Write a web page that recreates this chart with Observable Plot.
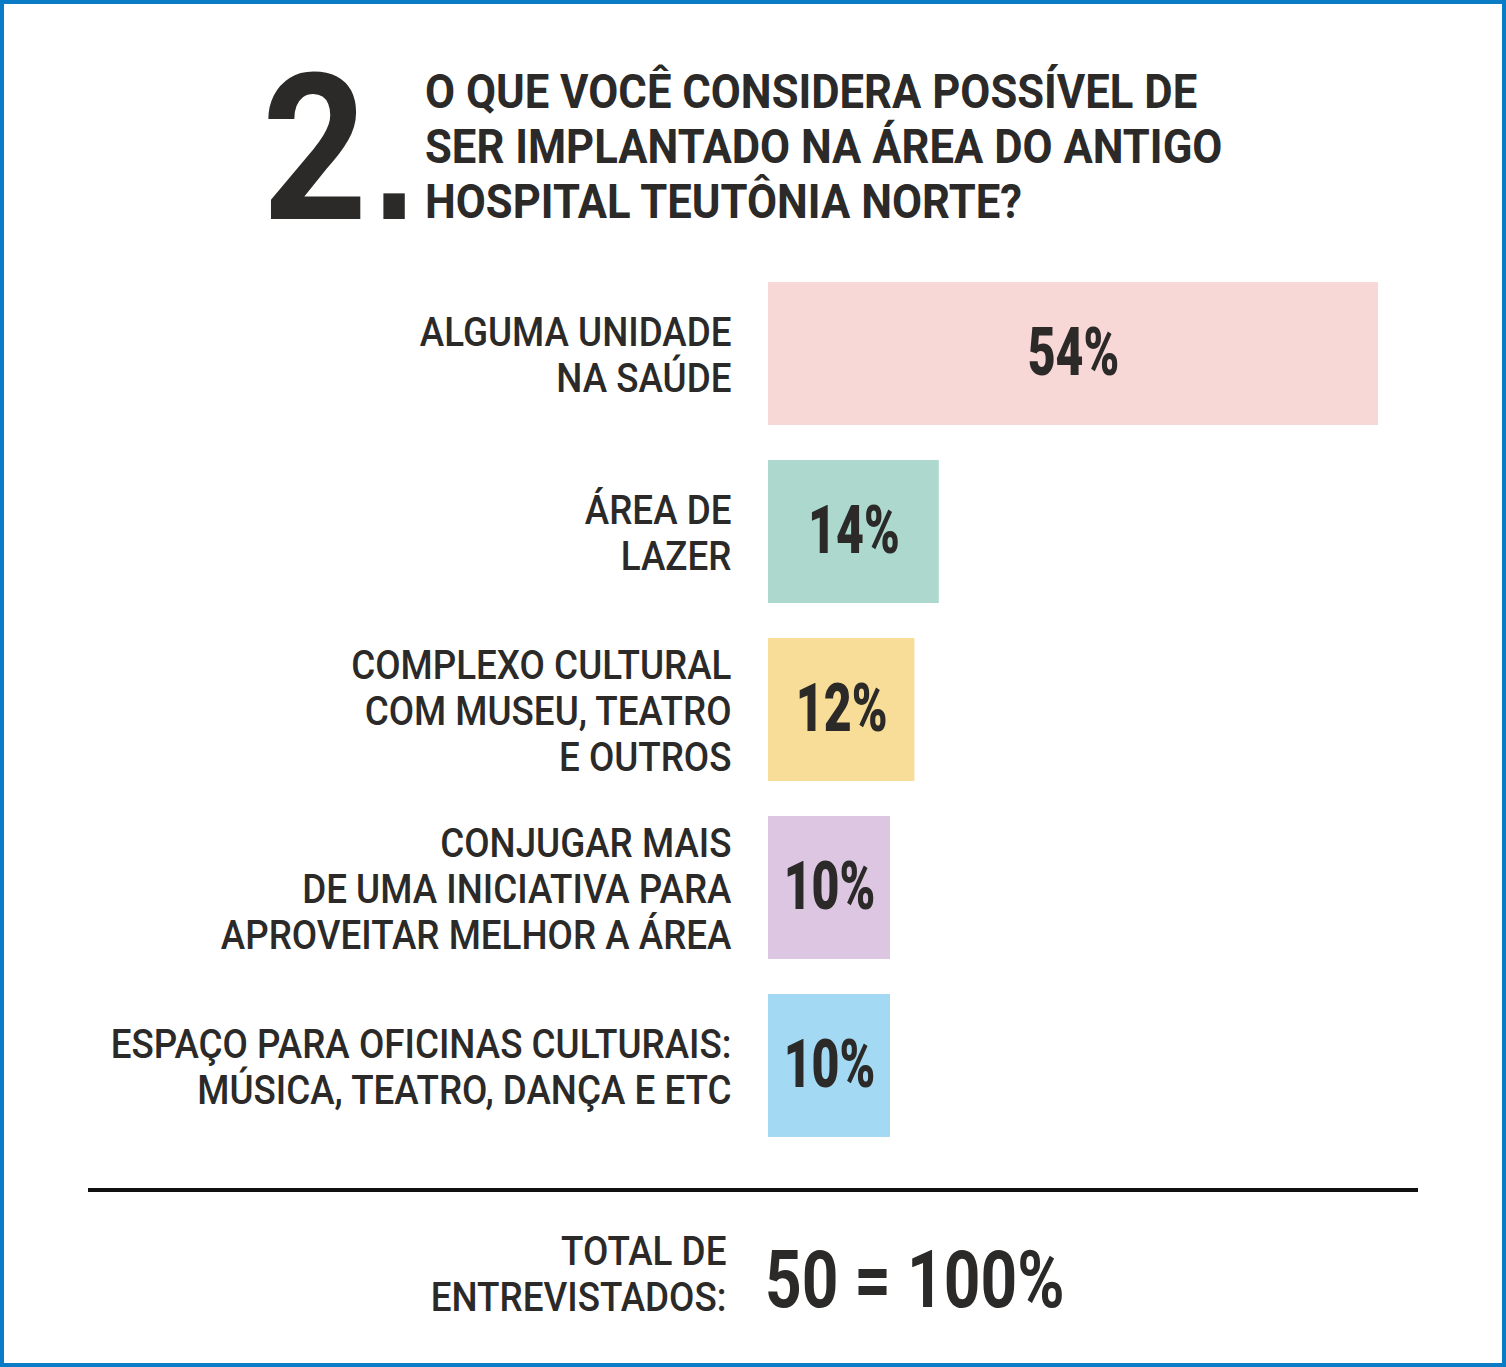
<!DOCTYPE html>
<html>
<head>
<meta charset="utf-8">
<script src="https://cdn.jsdelivr.net/npm/d3@7"></script>
<script src="https://cdn.jsdelivr.net/npm/@observablehq/plot@0.6"></script>
<style>
  html, body { margin: 0; padding: 0; background: #fff; }
  #frame { position: relative; width: 1506px; height: 1367px; background: #fff; overflow: hidden;
           font-family: Roboto, "Noto Sans", sans-serif; color: #2b2a28; }
  #border { position: absolute; left: 0; top: 0; width: 1506px; height: 1367px; box-sizing: border-box;
            border: 4px solid #0a7bc5; pointer-events: none; }
  .abs { position: absolute; white-space: nowrap; }
  #num { left: 262px; top: 48px; font-size: 204px; line-height: 204px; font-weight: 700;
         transform: scaleX(0.9); transform-origin: left top; }
  #num .dot { font-family: "DejaVu Sans", sans-serif; font-size: 135px; font-weight: 700; margin-left: 4px; }
  #q { left: 425px; top: 64px; font-size: 49px; line-height: 55px; font-weight: 700;
       transform: scaleX(0.89); transform-origin: left top; }
  #chart { left: 0; top: 242px; }
  #rule { left: 88px; top: 1188px; width: 1330px; height: 4px; background: #111; }
  #totLabel { right: 780px; top: 1229px; font-size: 40px; line-height: 46px; text-align: right; font-weight: 500;
              transform: scaleX(0.92); transform-origin: right top; }
  #totValue { left: 765px; top: 1240px; font-size: 80px; line-height: 80px; font-weight: 700;
              transform: scaleX(0.8); transform-origin: left top; }
</style>
</head>
<body>
<div id="frame">
  <div class="abs" id="num"></div>
  <div class="abs" id="q"></div>
  <div class="abs" id="chart"></div>
  <div class="abs" id="rule"></div>
  <div class="abs" id="totLabel"></div>
  <div class="abs" id="totValue"></div>
  <div id="border"></div>
</div>
<script>
// ---- data ----
const questionNumber = "2";
const questionDot = ".";
const titleLines = ["O QUE VOCÊ CONSIDERA POSSÍVEL DE", "SER IMPLANTADO NA ÁREA DO ANTIGO", "HOSPITAL TEUTÔNIA NORTE?"];
const categories = [
  "ALGUMA UNIDADE\nNA SAÚDE",
  "ÁREA DE\nLAZER",
  "COMPLEXO CULTURAL\nCOM MUSEU, TEATRO\nE OUTROS",
  "CONJUGAR MAIS\nDE UMA INICIATIVA PARA\nAPROVEITAR MELHOR A ÁREA",
  "ESPAÇO PARA OFICINAS CULTURAIS:\nMÚSICA, TEATRO, DANÇA E ETC"
];
const values = [54, 14, 12, 10, 10];
const valueLabels = ["54%", "14%", "12%", "10%", "10%"];
const colors = ["#f8d7d7", "#acd8ce", "#f8dd98", "#dcc6e2", "#a3d9f3"];
const totalLines = ["TOTAL DE", "ENTREVISTADOS:"];
const totalValue = "50 = 100%";
const xCap = 50; // the original graphic truncates the long bar

// ---- texts ----
const num = document.getElementById("num");
num.textContent = questionNumber;
const dot = document.createElement("span");
dot.className = "dot";
dot.textContent = questionDot;
num.appendChild(dot);
document.getElementById("q").innerHTML = titleLines.join("<br>");
document.getElementById("totLabel").innerHTML = totalLines.join("<br>");
document.getElementById("totValue").textContent = totalValue;

// ---- chart ----
const data = categories.map((label, i) => ({label, value: values[i], text: valueLabels[i]}));
const ink = "#2b2a28";
const plot = Plot.plot({
  width: 1506,
  height: 935,
  marginTop: 5, marginBottom: 5, marginLeft: 768, marginRight: 128,
  x: {domain: [0, xCap], clamp: true, axis: null},
  y: {domain: categories, padding: 0.197, round: false, axis: null},
  color: {domain: categories, range: colors},
  style: {background: "transparent", overflow: "visible"},
  marks: [
    Plot.barX(data, {x: "value", y: "label", fill: "label"}),
    Plot.text(data, {y: "label", text: "label", frameAnchor: "left", textAnchor: "end", dx: -37,
      fontSize: 40, fontWeight: 500, lineHeight: 1.15, lineAnchor: "middle", fill: ink, fontFamily: "Roboto"}),
    Plot.text(data, {x: d => Math.min(d.value, xCap) / 2, y: "label", text: "text",
      fontSize: 67, fontWeight: 900, fill: ink, fontFamily: "Roboto"})
  ]
});
document.getElementById("chart").appendChild(plot);

// condense text horizontally (the original uses a condensed DIN face)
function condense(nodes, sx) {
  nodes.forEach(node => {
    node.querySelectorAll("text").forEach(t => {
      const tr = t.getAttribute("transform") || "";
      const x = +t.getAttribute("x") || 0;
      const y = +t.getAttribute("y") || 0;
      t.setAttribute("transform", `${tr} translate(${x},${y}) scale(${sx},1) translate(${-x},${-y})`);
    });
  });
}
const textGroups = Array.from(plot.querySelectorAll('g[aria-label="text"]'));
condense([textGroups[0]], 0.92);
condense([textGroups[1]], 0.72);
</script>
</body>
</html>
